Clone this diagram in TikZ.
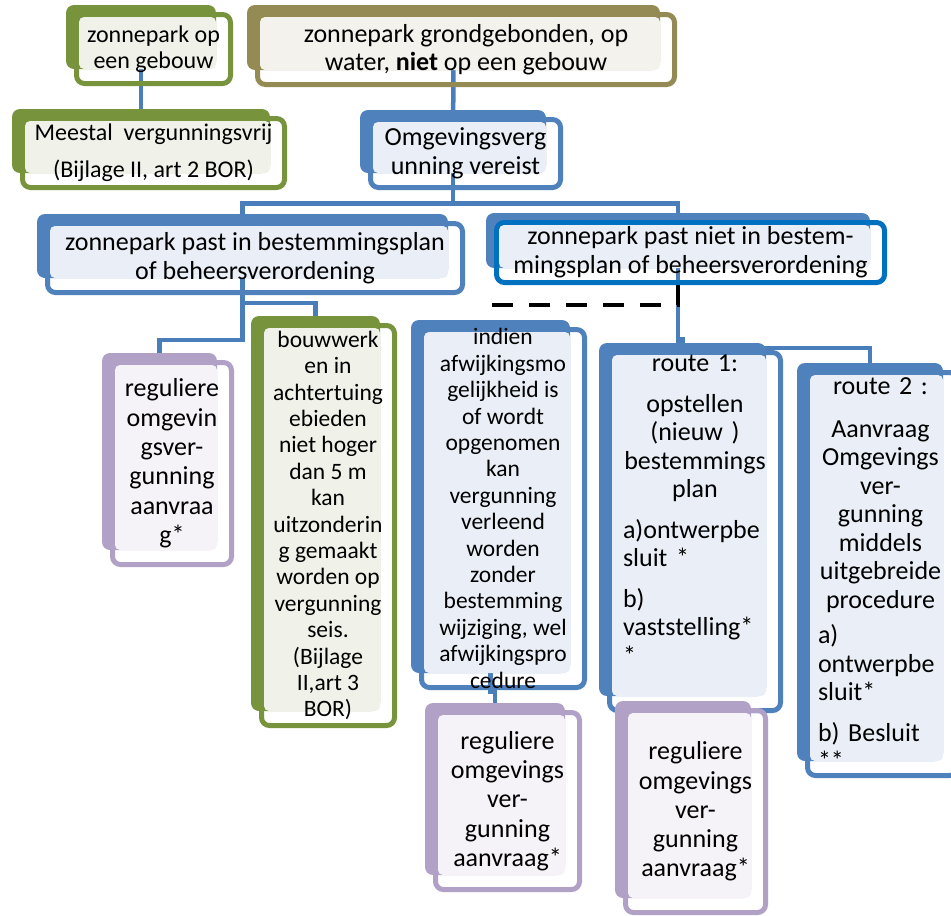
\documentclass[tikz,border=0pt]{standalone}
\usepackage{fontspec}
\setmainfont{Carlito}
\usepackage{tikz}
\usetikzlibrary{calc}

\definecolor{groenD}{RGB}{119,147,60}
\definecolor{groenL}{RGB}{240,241,233}
\definecolor{tanD}{RGB}{148,138,84}
\definecolor{tanL}{RGB}{243,242,237}
\definecolor{blauwD}{RGB}{79,129,189}
\definecolor{blauwL}{RGB}{234,239,247}
\definecolor{fel}{RGB}{0,112,192}
\definecolor{paarsD}{RGB}{178,161,199}
\definecolor{paarsL}{RGB}{245,243,248}
\definecolor{lijnblauw}{RGB}{74,126,187}

\pgfdeclarelayer{achter}
\pgfsetlayers{achter,main}

% vak: naam, kleur, rand, x0, y0, x1, y1 (buitenrand voorste vak), tekstopties, tekst
\newcommand{\zpvak}[9]{%
    \fill[#2D,rounded corners=8pt] (#4-8,#5-7) rectangle (#6-17,#7-17);
    \node[voorvak,draw=#3,minimum width={#6-#4-5},minimum height={#7-#5-5}]
        (#1) at ({(#4+#6)/2},{(#5+#7)/2}) {};
    \fill[#2L,rounded corners=5pt] (#4+5,#5+5) rectangle (#6-17,#7-17);
    \node[tekst,#8] (#1-t) at (#1.center) {#9};
}

\begin{document}
\begin{tikzpicture}[x=1pt,y=-1pt,
    voorvak/.style={rectangle,rounded corners=8pt,line width=5pt,inner sep=0pt},
    tekst/.style={align=center,inner sep=0pt,font=\fontsize{26}{29}\selectfont},
    lijn/.style={lijnblauw,line width=4.5pt},
    stippel/.style={black,line width=4.5pt,dash pattern=on 21pt off 16pt}]
    \useasboundingbox (0,0) rectangle (951,916);

    % bovenste rij
    \zpvak{gebouw}{groen}{groenD}{74}{12}{233}{86}{font=\fontsize{24}{26}\selectfont}
        {zonnepark op\\een gebouw}
    \zpvak{grond}{tan}{tanD}{255}{12}{677}{87}{font=\fontsize{26}{28}\selectfont}
        {zonnepark grondgebonden, op\\water, \textbf{niet} op een gebouw}
    \zpvak{vrij}{groen}{groenD}{20}{116}{287}{190}{font=\fontsize{24}{28}\selectfont}
        {Meestal\ \ vergunningsvrij\\[9pt](Bijlage II, art 2 BOR)}
    \zpvak{omg}{blauw}{blauwD}{368}{117}{563}{190}{}
        {Omgevingsverg\\unning vereist}

    % past wel / niet
    \zpvak{pastin}{blauw}{blauwD}{45}{221}{465}{295}{}
        {zonnepark past in bestemmingsplan\\of beheersverordening}
    \zpvak{pastniet}{blauw}{fel}{494}{220}{887}{285}{}
        {zonnepark past niet in bestem-\\mingsplan of beheersverordening}

    % onderste rij
    \zpvak{regulier1}{paars}{paarsD}{110}{360}{234}{567}{font=\fontsize{26}{29.4}\selectfont}
        {reguliere\\omgevin\\gsver-\\gunning\\aanvraa\\g*}
    \zpvak{bouwwerk}{groen}{groenD}{259}{323}{397}{728}{font=\fontsize{23.5}{26.4}\selectfont}
        {bouwwerk\\en in\\achtertuing\\ebieden\\niet hoger\\dan 5 m\\kan\\uitzonderin\\g gemaakt\\worden op\\vergunning\\seis.\\(Bijlage\\II,art 3\\BOR)}
    \zpvak{afwijking}{blauw}{blauwD}{419}{327}{587}{690}{font=\fontsize{23.5}{26.4}\selectfont}
        {indien\\afwijkingsmo\\gelijkheid is\\of wordt\\opgenomen\\kan\\vergunning\\verleend\\worden\\zonder\\bestemming\\wijziging, wel\\afwijkingspro\\cedure}
    \zpvak{route1}{blauw}{blauwD}{607}{350}{783}{713}{font=\fontsize{26}{28.5}\selectfont,text width=144pt,align=left,yshift=22pt}
        {{\centering route 1:\par}\vspace{12pt}
         {\centering opstellen\\(nieuw )\\bestemmings\\plan\par}\vspace{12pt}
         a)ontwerpbe\\sluit *\par\vspace{12pt}
         b)\\vaststelling*\\{}*}
    \zpvak{route2}{blauw}{blauwD}{805}{370}{960}{778}{font=\fontsize{26}{28.5}\selectfont,text width=125pt,align=left,xshift=-2pt}
        {{\centering route 2 :\par}\vspace{14pt}
         {\centering Aanvraag\\Omgevings\\ver-\\gunning\\middels\\uitgebreide\\procedure\par}\vspace{7pt}
         a)\\ontwerpbe\\sluit*\par\vspace{12pt}
         b) Besluit\\{}**}
    \zpvak{regulier2}{paars}{paarsD}{433}{710}{582}{892}{font=\fontsize{26}{29.3}\selectfont}
        {reguliere\\omgevings\\ver-\\gunning\\aanvraag*}
    \zpvak{regulier3}{paars}{paarsD}{623}{708}{768}{915}{font=\fontsize{26}{29.3}\selectfont}
        {reguliere\\omgevings\\ver-\\gunning\\aanvraag*}

    % verbindingen
    \begin{pgfonlayer}{achter}
        \draw[lijn] ($(gebouw.center)+(-12.5,0)$) -- ($(vrij.center)+(-12.5,0)$);
        \draw[lijn] ($(grond.center)+(-12.5,0)$) -- ($(omg.center)+(-12.5,0)$);
        \foreach \doel in {pastin,pastniet}
            \draw[lijn] ($(omg.center)+(-12.5,0)$) -- ++(0,50) -| ($(\doel.center)+(-12.5,0)$);
        \draw[lijn] ($(pastin.center)+(-12.5,0)$) -- ++(0,82) -| ($(regulier1.center)+(-12.5,0)$);
        \draw[lijn] ($(pastin.center)+(-12.5,0)$) -- ++(0,45) -| ($(bouwwerk.center)+(-12.5,0)$);
        \draw[lijn] ($(pastniet.center)+(-12.5,0)$) -- ++(0,86.5) -| ($(route1.center)+(-12.5,0)$);
        \draw[lijn] ($(pastniet.center)+(-12.5,0)$) -- ++(0,95.5) -| ($(route2.center)+(-12.5,0)$);
        \draw[lijn] ($(afwijking.center)+(-12.5,0)$) -- ++(0,183.5) -| ($(regulier2.center)+(-12.5,0)$);
        \draw[stippel] ($(pastniet.south)+(-12.5,0)$) |- ($(afwijking.north)+(-12.5,-22)$);
    \end{pgfonlayer}
\end{tikzpicture}
\end{document}
